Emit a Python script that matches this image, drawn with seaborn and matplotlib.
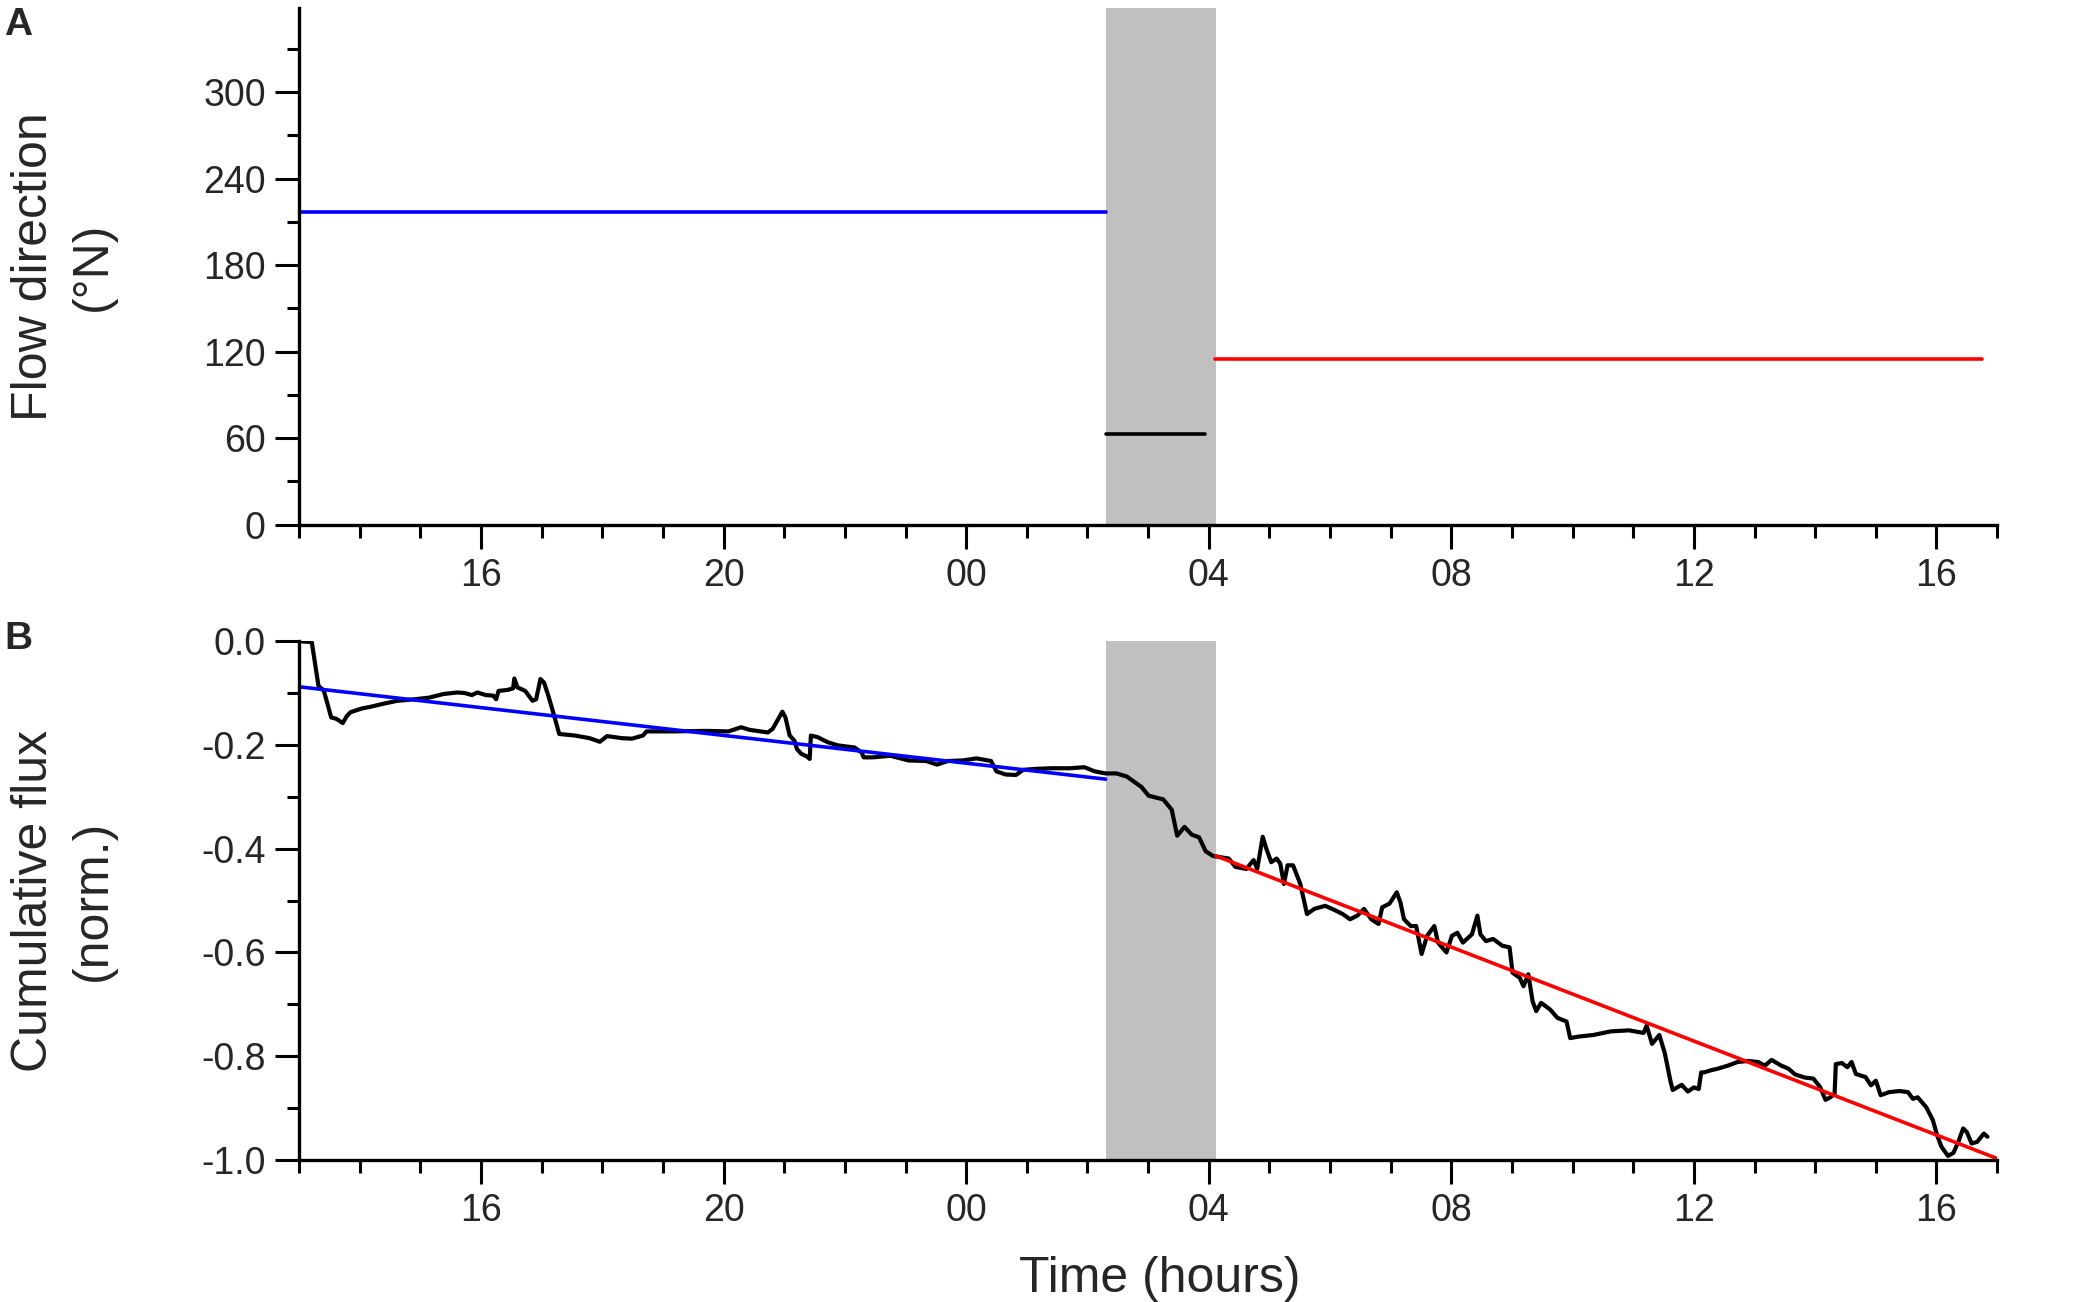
import matplotlib
matplotlib.use("Agg")
import matplotlib.pyplot as plt
from matplotlib.ticker import MultipleLocator, FuncFormatter
import seaborn as sns
import pandas as pd

# time axis in hours since midnight of day 1 (13:00 -> 41:00 = 17:00 next day)
t_start, t_end = 13.0, 41.0
gray_start, gray_end = 26.30, 28.12

# panel A: flow direction segments
dir_start = [13.0, 26.30, 28.10]
dir_end = [26.30, 27.94, 40.75]
dir_value = [217, 63, 115]
dir_color = ["#0000ff", "black", "#ff0000"]

# panel B: cumulative flux (normalised)
flux_t = [13.00, 13.21, 13.32, 13.41, 13.53, 13.62, 13.72, 13.79, 13.85, 14.03,
          14.20, 14.38, 14.62, 14.91, 15.14, 15.38, 15.61, 15.73, 15.85, 15.94,
          16.08, 16.20, 16.25, 16.29, 16.44, 16.53, 16.55, 16.60, 16.73, 16.85,
          16.91, 16.98, 17.04, 17.11, 17.20, 17.29, 17.55, 17.79, 17.96, 18.08,
          18.32, 18.49, 18.67, 18.73, 19.14, 19.73, 20.08, 20.29, 20.43, 20.73,
          20.81, 20.97, 21.02, 21.09, 21.17, 21.21, 21.28, 21.37, 21.42, 21.44,
          21.55, 21.72, 21.89, 22.16, 22.28, 22.31, 22.46, 22.75, 23.05, 23.34,
          23.52, 23.70, 23.94, 24.17, 24.41, 24.50, 24.65, 24.82, 24.94, 25.18,
          25.41, 25.71, 25.95, 26.12, 26.30, 26.48, 26.65, 26.89, 27.01, 27.25,
          27.39, 27.48, 27.60, 27.72, 27.84, 27.95, 28.07, 28.33, 28.44, 28.62,
          28.74, 28.80, 28.89, 28.95, 29.03, 29.12, 29.18, 29.24, 29.30, 29.39,
          29.51, 29.62, 29.74, 29.92, 30.09, 30.21, 30.33, 30.45, 30.56, 30.68,
          30.80, 30.86, 30.98, 31.10, 31.16, 31.22, 31.33, 31.42, 31.51, 31.60,
          31.72, 31.78, 31.92, 32.01, 32.10, 32.19, 32.34, 32.43, 32.48, 32.57,
          32.69, 32.84, 32.96, 33.01, 33.13, 33.19, 33.27, 33.34, 33.40, 33.48,
          33.63, 33.75, 33.90, 33.96, 34.10, 34.34, 34.63, 34.93, 35.17, 35.22,
          35.31, 35.43, 35.52, 35.61, 35.65, 35.80, 35.90, 36.00, 36.08, 36.12,
          36.17, 36.28, 36.39, 36.56, 36.72, 36.89, 37.06, 37.17, 37.28, 37.44,
          37.56, 37.67, 37.83, 37.97, 38.08, 38.17, 38.25, 38.32, 38.34, 38.44,
          38.53, 38.60, 38.67, 38.83, 38.92, 39.00, 39.08, 39.22, 39.39, 39.53,
          39.61, 39.69, 39.83, 39.94, 40.01, 40.08, 40.19, 40.28, 40.36, 40.44,
          40.50, 40.58, 40.67, 40.78, 40.84]
flux_v = [0.000, -0.002, -0.086, -0.096, -0.147, -0.150, -0.158, -0.144, -0.137, -0.130,
          -0.126, -0.121, -0.115, -0.112, -0.109, -0.102, -0.099, -0.100, -0.104, -0.099,
          -0.104, -0.105, -0.112, -0.096, -0.094, -0.091, -0.072, -0.089, -0.096, -0.115,
          -0.112, -0.073, -0.080, -0.105, -0.141, -0.179, -0.182, -0.187, -0.194, -0.183,
          -0.187, -0.188, -0.182, -0.174, -0.174, -0.173, -0.174, -0.166, -0.171, -0.176,
          -0.169, -0.136, -0.147, -0.182, -0.192, -0.208, -0.217, -0.222, -0.227, -0.182,
          -0.185, -0.195, -0.201, -0.205, -0.215, -0.224, -0.224, -0.221, -0.230, -0.231,
          -0.238, -0.231, -0.230, -0.226, -0.231, -0.251, -0.257, -0.258, -0.248, -0.246,
          -0.245, -0.245, -0.243, -0.251, -0.255, -0.255, -0.261, -0.281, -0.298, -0.305,
          -0.325, -0.375, -0.358, -0.373, -0.378, -0.405, -0.414, -0.419, -0.435, -0.439,
          -0.422, -0.439, -0.377, -0.400, -0.426, -0.419, -0.429, -0.468, -0.432, -0.432,
          -0.468, -0.526, -0.516, -0.510, -0.519, -0.526, -0.536, -0.529, -0.516, -0.536,
          -0.545, -0.513, -0.506, -0.484, -0.503, -0.536, -0.549, -0.549, -0.603, -0.568,
          -0.549, -0.581, -0.600, -0.568, -0.562, -0.581, -0.565, -0.529, -0.565, -0.578,
          -0.574, -0.587, -0.590, -0.639, -0.649, -0.665, -0.642, -0.694, -0.713, -0.697,
          -0.710, -0.726, -0.733, -0.765, -0.762, -0.759, -0.752, -0.750, -0.755, -0.741,
          -0.776, -0.759, -0.794, -0.846, -0.865, -0.855, -0.868, -0.860, -0.863, -0.831,
          -0.831, -0.827, -0.824, -0.818, -0.811, -0.809, -0.811, -0.818, -0.807, -0.818,
          -0.824, -0.835, -0.841, -0.843, -0.859, -0.884, -0.879, -0.872, -0.815, -0.813,
          -0.821, -0.811, -0.834, -0.840, -0.856, -0.847, -0.875, -0.869, -0.867, -0.869,
          -0.882, -0.879, -0.898, -0.923, -0.952, -0.974, -0.992, -0.986, -0.965, -0.939,
          -0.946, -0.968, -0.965, -0.949, -0.955]

# linear fits before / after the gray period
blue_fit_t = [13.0, 26.30]
blue_fit_v = [-0.088, -0.266]
red_fit_t = [28.12, 41.0]
red_fit_v = [-0.414, -0.997]

sns.set_style("ticks")
plt.rcParams["font.family"] = ["Liberation Sans", "DejaVu Sans"]
plt.rcParams["axes.unicode_minus"] = False

fig = plt.figure(figsize=(20.81, 13.02), dpi=100)
ax_a = fig.add_axes([0.1437, 0.597, 0.816, 0.3965])
ax_b = fig.add_axes([0.1437, 0.109, 0.816, 0.3986])


def hour_label(x, pos):
    return f"{int(round(x)) % 24:02d}"


for ax in (ax_a, ax_b):
    ax.axvspan(gray_start, gray_end, color="#c0c0c0", lw=0, zorder=0)
    ax.set_xlim(t_start, t_end)
    ax.xaxis.set_major_locator(MultipleLocator(4))
    ax.xaxis.set_minor_locator(MultipleLocator(1))
    ax.xaxis.set_major_formatter(FuncFormatter(hour_label))
    sns.despine(ax=ax)
    for side in ("left", "bottom"):
        ax.spines[side].set_linewidth(2.4)
        ax.spines[side].set_color("black")
    ax.tick_params(which="major", length=17, width=2.2, labelsize=27, pad=7, color="black")
    ax.tick_params(which="minor", length=9, width=2.2, color="black")
    ax.set_facecolor("white")

# panel A
dir_df = pd.DataFrame({"start": dir_start, "end": dir_end, "value": dir_value, "color": dir_color})
for _, row in dir_df.iterrows():
    sns.lineplot(x=[row["start"], row["end"]], y=[row["value"], row["value"]],
                 ax=ax_a, color=row["color"], lw=2.6)
ax_a.set_ylim(0, 358)
ax_a.yaxis.set_major_locator(MultipleLocator(60))
ax_a.yaxis.set_minor_locator(MultipleLocator(30))
ax_a.set_ylabel("Flow direction\n(°N)", fontsize=36, linespacing=1.35)
ax_a.yaxis.set_label_coords(-0.108, 0.5)

# panel B
flux_df = pd.DataFrame({"time": flux_t, "flux": flux_v})
sns.lineplot(data=flux_df, x="time", y="flux", ax=ax_b, color="black", lw=3.0, sort=False)
sns.lineplot(x=blue_fit_t, y=blue_fit_v, ax=ax_b, color="#0000ff", lw=2.6)
sns.lineplot(x=red_fit_t, y=red_fit_v, ax=ax_b, color="#ff0000", lw=2.6)
ax_b.set_ylim(-1.0, 0.0)
ax_b.yaxis.set_major_locator(MultipleLocator(0.2))
ax_b.yaxis.set_minor_locator(MultipleLocator(0.1))
ax_b.yaxis.set_major_formatter(FuncFormatter(lambda y, p: f"{y:.1f}"))
ax_b.set_ylabel("Cumulative flux\n(norm.)", fontsize=36, linespacing=1.35)
ax_b.yaxis.set_label_coords(-0.108, 0.5)
ax_b.set_xlabel("Time (hours)", fontsize=36)
ax_b.xaxis.set_label_coords(0.507, -0.185)

fig.text(0.002, 0.995, "A", fontsize=28, fontweight="bold", va="top", ha="left")
fig.text(0.002, 0.523, "B", fontsize=28, fontweight="bold", va="top", ha="left")

fig.savefig("out.png", dpi=100, facecolor="white")
